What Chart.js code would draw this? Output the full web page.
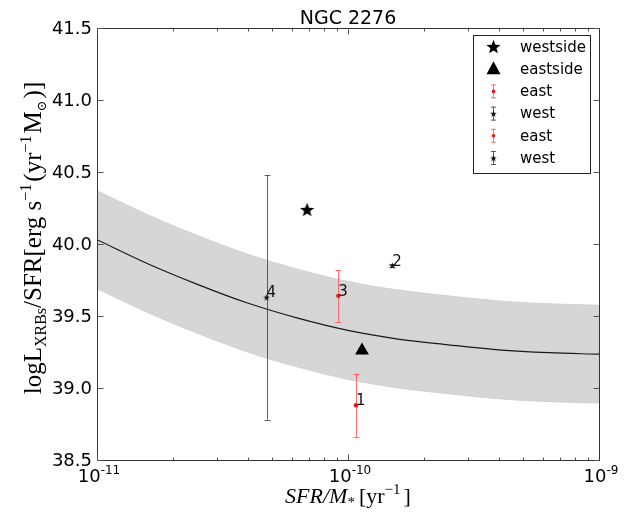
<!DOCTYPE html>
<html>
<head>
<meta charset="utf-8">
<script src="https://cdn.jsdelivr.net/npm/chart.js@4.4.1/dist/chart.umd.min.js"></script>
<style>
  body { margin: 0; background: #fff; }
  canvas { display: block; }
</style>
</head>
<body>
<canvas id="ngcChart" width="628" height="515"></canvas>
<script>
const xTickValues = [1e-11, 1e-10, 1e-9];
const xTickExps = ['-11', '-10', '-9'];
const yTickValues = [38.5, 39.0, 39.5, 40.0, 40.5, 41.0, 41.5];

// scaling relation and its scatter band
const curveX = [1e-11, 1.585e-11, 2.512e-11, 3.981e-11, 6.31e-11, 1e-10, 1.585e-10, 2.512e-10, 3.981e-10, 6.31e-10, 1e-9];
const curveY = [40.03, 39.865, 39.72, 39.59, 39.485, 39.40, 39.34, 39.30, 39.265, 39.245, 39.235];
const bandUpper = [40.37, 40.205, 40.06, 39.93, 39.825, 39.74, 39.68, 39.64, 39.605, 39.585, 39.575];
const bandLower = [39.69, 39.525, 39.38, 39.25, 39.145, 39.06, 39.00, 38.96, 38.925, 38.905, 38.895];

// whole-side measurements
const sideNames = ['westside', 'eastside'];
const sideX = [6.87e-11, 1.137e-10];
const sideY = [40.24, 39.26];

// individual regions
const regionIds = ['1', '2', '3', '4'];
const regionSides = ['east', 'west', 'east', 'west'];
const regionX = [1.076e-10, 1.502e-10, 9.15e-11, 4.74e-11];
const regionY = [38.88, 39.85, 39.64, 39.63];
const regionErr = [0.22, 0.01, 0.18, 0.85];

const eastDot = 'rgb(235, 20, 20)';
const eastBar = 'rgba(255, 70, 70, 0.75)';
const westDot = 'rgb(20, 20, 20)';
const westBar = 'rgba(70, 70, 70, 0.85)';
const bandColor = 'rgb(214, 214, 214)';
const sansFont = '"DejaVu Sans", sans-serif';
const serifFont = '"Liberation Serif", "DejaVu Serif", serif';

const toPoints = (xs, ys) => xs.map((x, i) => ({ x: x, y: ys[i] }));

const makeStar = (size, color) => {
  const c = document.createElement('canvas');
  c.width = size;
  c.height = size;
  const g = c.getContext('2d');
  const R = size / 2;
  const r = R * 0.42;
  g.beginPath();
  for (let i = 0; i < 10; i++) {
    const rad = i % 2 ? r : R;
    const a = -Math.PI / 2 + i * Math.PI / 5;
    g.lineTo(R + rad * Math.cos(a), R * 1.1 + rad * Math.sin(a));
  }
  g.closePath();
  g.fillStyle = color;
  g.fill();
  return c;
};

const bigStar = makeStar(15, '#000');
const smallStar = makeStar(7, '#111');

// draws a row of text pieces (normal / sub / superscript) starting at x
const drawRuns = (ctx, runs, x, y, align) => {
  let total = 0;
  runs.forEach(r => { ctx.font = r.font; total += ctx.measureText(r.t).width + (r.gap || 0); });
  let cx = align === 'center' ? x - total / 2 : x;
  ctx.textAlign = 'left';
  ctx.textBaseline = 'alphabetic';
  runs.forEach(r => {
    ctx.font = r.font;
    ctx.fillText(r.t, cx, y + (r.dy || 0));
    cx += ctx.measureText(r.t).width + (r.gap || 0);
  });
};

const regionDatasets = regionIds.map((id, i) => {
  const east = regionSides[i] === 'east';
  return {
    label: regionSides[i],
    data: [{ x: regionX[i], y: regionY[i] }],
    showLine: false,
    pointStyle: east ? 'circle' : smallStar,
    pointRadius: east ? 2.2 : 3,
    backgroundColor: east ? eastDot : westDot,
    borderColor: east ? eastDot : westDot,
    borderWidth: 0,
    order: 2
  };
});

const errorBars = {
  id: 'errorBars',
  afterDatasetDraw(chart, args) {
    if (args.index !== 2) return;
    const { ctx, scales: { x, y } } = chart;
    ctx.save();
    ctx.lineWidth = 1;
    regionIds.forEach((id, i) => {
      const px = Math.round(x.getPixelForValue(regionX[i])) + 0.5;
      const yTop = y.getPixelForValue(regionY[i] + regionErr[i]);
      const yBot = y.getPixelForValue(regionY[i] - regionErr[i]);
      ctx.strokeStyle = regionSides[i] === 'east' ? eastBar : westBar;
      ctx.beginPath();
      ctx.moveTo(px, yTop);
      ctx.lineTo(px, yBot);
      ctx.moveTo(px - 3, Math.round(yTop) + 0.5);
      ctx.lineTo(px + 3, Math.round(yTop) + 0.5);
      ctx.moveTo(px - 3, Math.round(yBot) + 0.5);
      ctx.lineTo(px + 3, Math.round(yBot) + 0.5);
      ctx.stroke();
    });
    ctx.restore();
  }
};

const frameAndText = {
  id: 'frameAndText',
  afterDraw(chart) {
    const { ctx, chartArea: { left, right, top, bottom }, scales: { x, y } } = chart;
    ctx.save();

    // region numbers
    ctx.fillStyle = '#111';
    ctx.font = '15px ' + sansFont;
    ctx.textAlign = 'left';
    ctx.textBaseline = 'alphabetic';
    regionIds.forEach((id, i) => {
      ctx.fillText(id, x.getPixelForValue(regionX[i]), y.getPixelForValue(regionY[i]));
    });

    // frame
    const l = Math.round(left) + 0.5, r = Math.round(right) + 0.5;
    const t = Math.round(top) + 0.5, b = Math.round(bottom) + 0.5;
    ctx.strokeStyle = '#333';
    ctx.lineWidth = 1;
    ctx.strokeRect(l, t, r - l, b - t);

    // ticks, pointing inward on all sides
    ctx.strokeStyle = '#555';
    ctx.beginPath();
    for (let e = -11; e <= -10; e++) {
      for (let m = 1; m <= 9; m++) {
        const px = Math.round(x.getPixelForValue(m * Math.pow(10, e))) + 0.5;
        const len = m === 1 ? 6 : 3;
        ctx.moveTo(px, b); ctx.lineTo(px, b - len);
        ctx.moveTo(px, t); ctx.lineTo(px, t + len);
      }
    }
    yTickValues.forEach(v => {
      const py = Math.round(y.getPixelForValue(v)) + 0.5;
      ctx.moveTo(l, py); ctx.lineTo(l + 6, py);
      ctx.moveTo(r, py); ctx.lineTo(r - 6, py);
    });
    ctx.stroke();

    // tick labels
    ctx.fillStyle = '#000';
    ctx.font = '18px ' + sansFont;
    ctx.textAlign = 'right';
    ctx.textBaseline = 'middle';
    yTickValues.forEach(v => {
      ctx.fillText(v.toFixed(1), left - 5, y.getPixelForValue(v) + 1);
    });
    xTickValues.forEach((v, i) => {
      drawRuns(ctx, [
        { t: '10', font: '18px ' + sansFont },
        { t: xTickExps[i], font: '12px ' + sansFont, dy: -8 }
      ], x.getPixelForValue(v) + 2, bottom + 22, 'center');
    });

    // title
    ctx.font = '19px ' + sansFont;
    ctx.textAlign = 'center';
    ctx.textBaseline = 'alphabetic';
    ctx.fillText('NGC 2276', (left + right) / 2, 24);

    // axis titles
    drawRuns(ctx, [
      { t: 'SFR/M', font: 'italic 22px ' + serifFont },
      { t: '*', font: '15px ' + serifFont, dy: 4, gap: 4 },
      { t: '[yr', font: '22px ' + serifFont },
      { t: '\u22121', font: '15px ' + serifFont, dy: -9, gap: 3 },
      { t: ']', font: '22px ' + serifFont }
    ], (left + right) / 2, 503, 'center');

    ctx.translate(41, 238);
    ctx.rotate(-Math.PI / 2);
    drawRuns(ctx, [
      { t: 'logL', font: '25px ' + serifFont },
      { t: 'XRBs', font: '16px ' + serifFont, dy: 5 },
      { t: '/SFR[erg s', font: '25px ' + serifFont },
      { t: '\u22121', font: '16px ' + serifFont, dy: -10, gap: 2 },
      { t: '(yr', font: '25px ' + serifFont },
      { t: '\u22121', font: '16px ' + serifFont, dy: -10, gap: 2 },
      { t: 'M', font: '25px ' + serifFont },
      { t: '\u2299', font: '13px ' + serifFont, dy: 5, gap: 2 },
      { t: ')]', font: '25px ' + serifFont }
    ], 0, 0, 'center');
    ctx.setTransform(1, 0, 0, 1, 0, 0);

    // legend
    const lx = 473.5, ly = 35.5, lw = 117, lh = 138;
    ctx.fillStyle = '#fff';
    ctx.fillRect(lx, ly, lw, lh);
    ctx.strokeStyle = '#222';
    ctx.strokeRect(lx, ly, lw, lh);
    const rows = [sideNames[0], sideNames[1]].concat(regionSides);
    rows.forEach((name, i) => {
      const cy = 47 + i * 22.2;
      const mx = 493.5;
      if (i === 0) {
        ctx.drawImage(bigStar, mx - 7.5, cy - 8);
      } else if (i === 1) {
        ctx.fillStyle = '#000';
        ctx.beginPath();
        ctx.moveTo(mx, cy - 8);
        ctx.lineTo(mx + 7, cy + 5);
        ctx.lineTo(mx - 7, cy + 5);
        ctx.closePath();
        ctx.fill();
      } else {
        const east = name === 'east';
        ctx.strokeStyle = east ? eastBar : westBar;
        ctx.beginPath();
        ctx.moveTo(mx, cy - 7); ctx.lineTo(mx, cy + 7);
        ctx.moveTo(mx - 2.5, cy - 6.5); ctx.lineTo(mx + 2.5, cy - 6.5);
        ctx.moveTo(mx - 2.5, cy + 6.5); ctx.lineTo(mx + 2.5, cy + 6.5);
        ctx.stroke();
        if (east) {
          ctx.fillStyle = eastDot;
          ctx.beginPath();
          ctx.arc(mx, cy, 1.8, 0, Math.PI * 2);
          ctx.fill();
        } else {
          ctx.drawImage(smallStar, mx - 3.5, cy - 3.5);
        }
      }
      ctx.fillStyle = '#000';
      ctx.font = '15px ' + sansFont;
      ctx.textAlign = 'left';
      ctx.textBaseline = 'middle';
      ctx.fillText(name, 520, cy + 1);
    });

    ctx.restore();
  }
};

new Chart(document.getElementById('ngcChart'), {
  type: 'line',
  data: {
    datasets: [
      {
        label: 'band upper',
        data: toPoints(curveX, bandUpper),
        fill: '+1',
        backgroundColor: bandColor,
        borderColor: 'rgb(205, 205, 205)',
        borderWidth: 0.8,
        pointRadius: 0,
        cubicInterpolationMode: 'monotone',
        order: 10
      },
      {
        label: 'band lower',
        data: toPoints(curveX, bandLower),
        fill: false,
        borderColor: 'rgb(205, 205, 205)',
        borderWidth: 0.8,
        pointRadius: 0,
        cubicInterpolationMode: 'monotone',
        order: 9
      },
      {
        label: 'relation',
        data: toPoints(curveX, curveY),
        fill: false,
        borderColor: '#1a1a1a',
        borderWidth: 1.2,
        pointRadius: 0,
        cubicInterpolationMode: 'monotone',
        order: 8
      },
      ...regionDatasets,
      {
        label: sideNames[0],
        data: [{ x: sideX[0], y: sideY[0] }],
        showLine: false,
        pointStyle: bigStar,
        pointRadius: 7,
        order: 1
      },
      {
        label: sideNames[1],
        data: [{ x: sideX[1], y: sideY[1] }],
        showLine: false,
        pointStyle: 'triangle',
        pointRadius: 8,
        backgroundColor: '#000',
        borderColor: '#000',
        borderWidth: 0,
        order: 1
      }
    ]
  },
  options: {
    responsive: false,
    animation: false,
    devicePixelRatio: 1,
    layout: { padding: { left: 97, right: 29, top: 28, bottom: 55 } },
    scales: {
      x: { type: 'logarithmic', min: 1e-11, max: 1e-9, display: false },
      y: { type: 'linear', min: 38.5, max: 41.5, display: false }
    },
    plugins: {
      legend: { display: false },
      title: { display: false },
      tooltip: { enabled: false }
    }
  },
  plugins: [errorBars, frameAndText]
});
</script>
</body>
</html>
